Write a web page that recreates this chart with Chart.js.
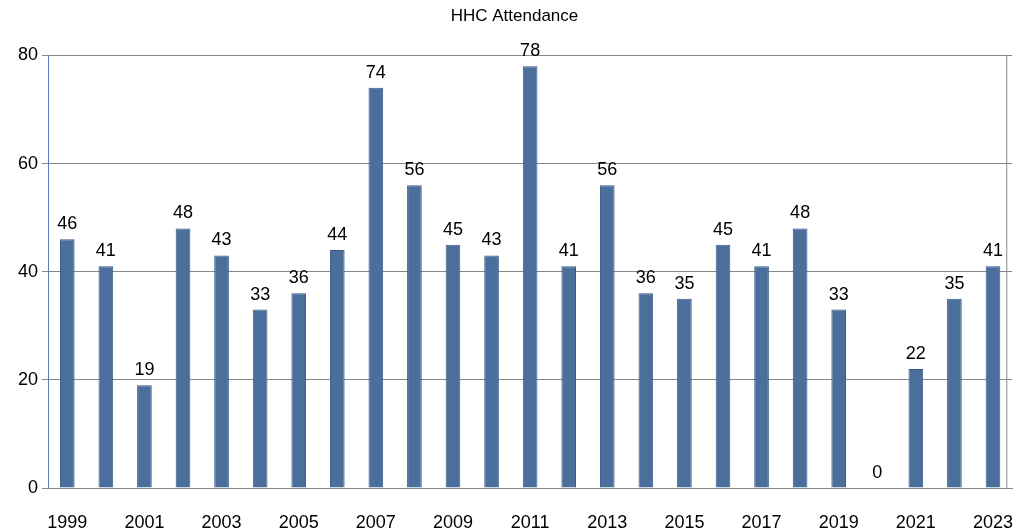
<!DOCTYPE html>
<html><head><meta charset="utf-8">
<script src="https://cdn.jsdelivr.net/npm/chart.js@4"></script>
<style>html,body{margin:0;padding:0;background:#fff}#w{width:1029px;height:531px}</style>
</head><body><div id="w"><canvas id="c"></canvas></div>
<script>
const years = ["1999","2000","2001","2002","2003","2004","2005","2006","2007","2008","2009","2010","2011","2012","2013","2014","2015","2016","2017","2018","2019","2020","2021","2022","2023"];
const attendance = [46,41,19,48,43,33,36,44,74,56,45,43,78,41,56,36,35,45,41,48,33,0,22,35,41];
const yTicks = [0,20,40,60,80];

const labelPlugin = {
  id:'lbl',
  afterDatasetsDraw(chart){
    const ctx=chart.ctx, meta=chart.getDatasetMeta(0);
    ctx.save(); ctx.font='18px "Liberation Sans", Arial, sans-serif'; ctx.fillStyle='#000';
    ctx.textAlign='center'; ctx.textBaseline='bottom';
    meta.data.forEach((b,i)=>{ ctx.fillText(String(attendance[i]), b.x, b.y-6); });
    ctx.restore();
  }
};
new Chart(document.getElementById('c'),{
  type:'bar',
  data:{labels:years,datasets:[{data:attendance,backgroundColor:'#4a6f9c',borderColor:'#3a5a85',borderWidth:1,barPercentage:0.38,categoryPercentage:1}]},
  options:{responsive:true,maintainAspectRatio:false,animation:false,
    layout:{padding:{top:0,right:0,left:0,bottom:0}},
    plugins:{legend:{display:false},tooltip:{enabled:false},
      title:{display:true,text:'HHC Attendance',color:'#000',font:{size:17,family:'"Liberation Sans", Arial, sans-serif',weight:'normal'},padding:{top:6,bottom:29}}},
    scales:{
      x:{grid:{display:false},border:{color:'#888'},afterFit:s=>{s.height=43;},
        ticks:{color:'#000',autoSkip:false,maxRotation:0,padding:16,font:{size:18,family:'"Liberation Sans", Arial, sans-serif'},callback:(v,i)=>i%2===0?years[i]:''}},
      y:{min:0,max:80,afterBuildTicks:s=>{s.ticks=yTicks.map(v=>({value:v}));},
        afterFit:s=>{s.width=48;},
        grid:{color:'#888',drawTicks:true,tickLength:6},border:{color:'#5b7fc0'},
        ticks:{color:'#000',padding:4,font:{size:18,family:'"Liberation Sans", Arial, sans-serif'}}}
    }},
  plugins:[labelPlugin,{id:'rb',afterDraw(c){const a=c.chartArea,x=c.ctx;x.save();x.strokeStyle='#888';x.beginPath();x.moveTo(a.right-5.5,a.top);x.lineTo(a.right-5.5,a.bottom);x.stroke();x.restore();}}]
});
</script></body></html>
